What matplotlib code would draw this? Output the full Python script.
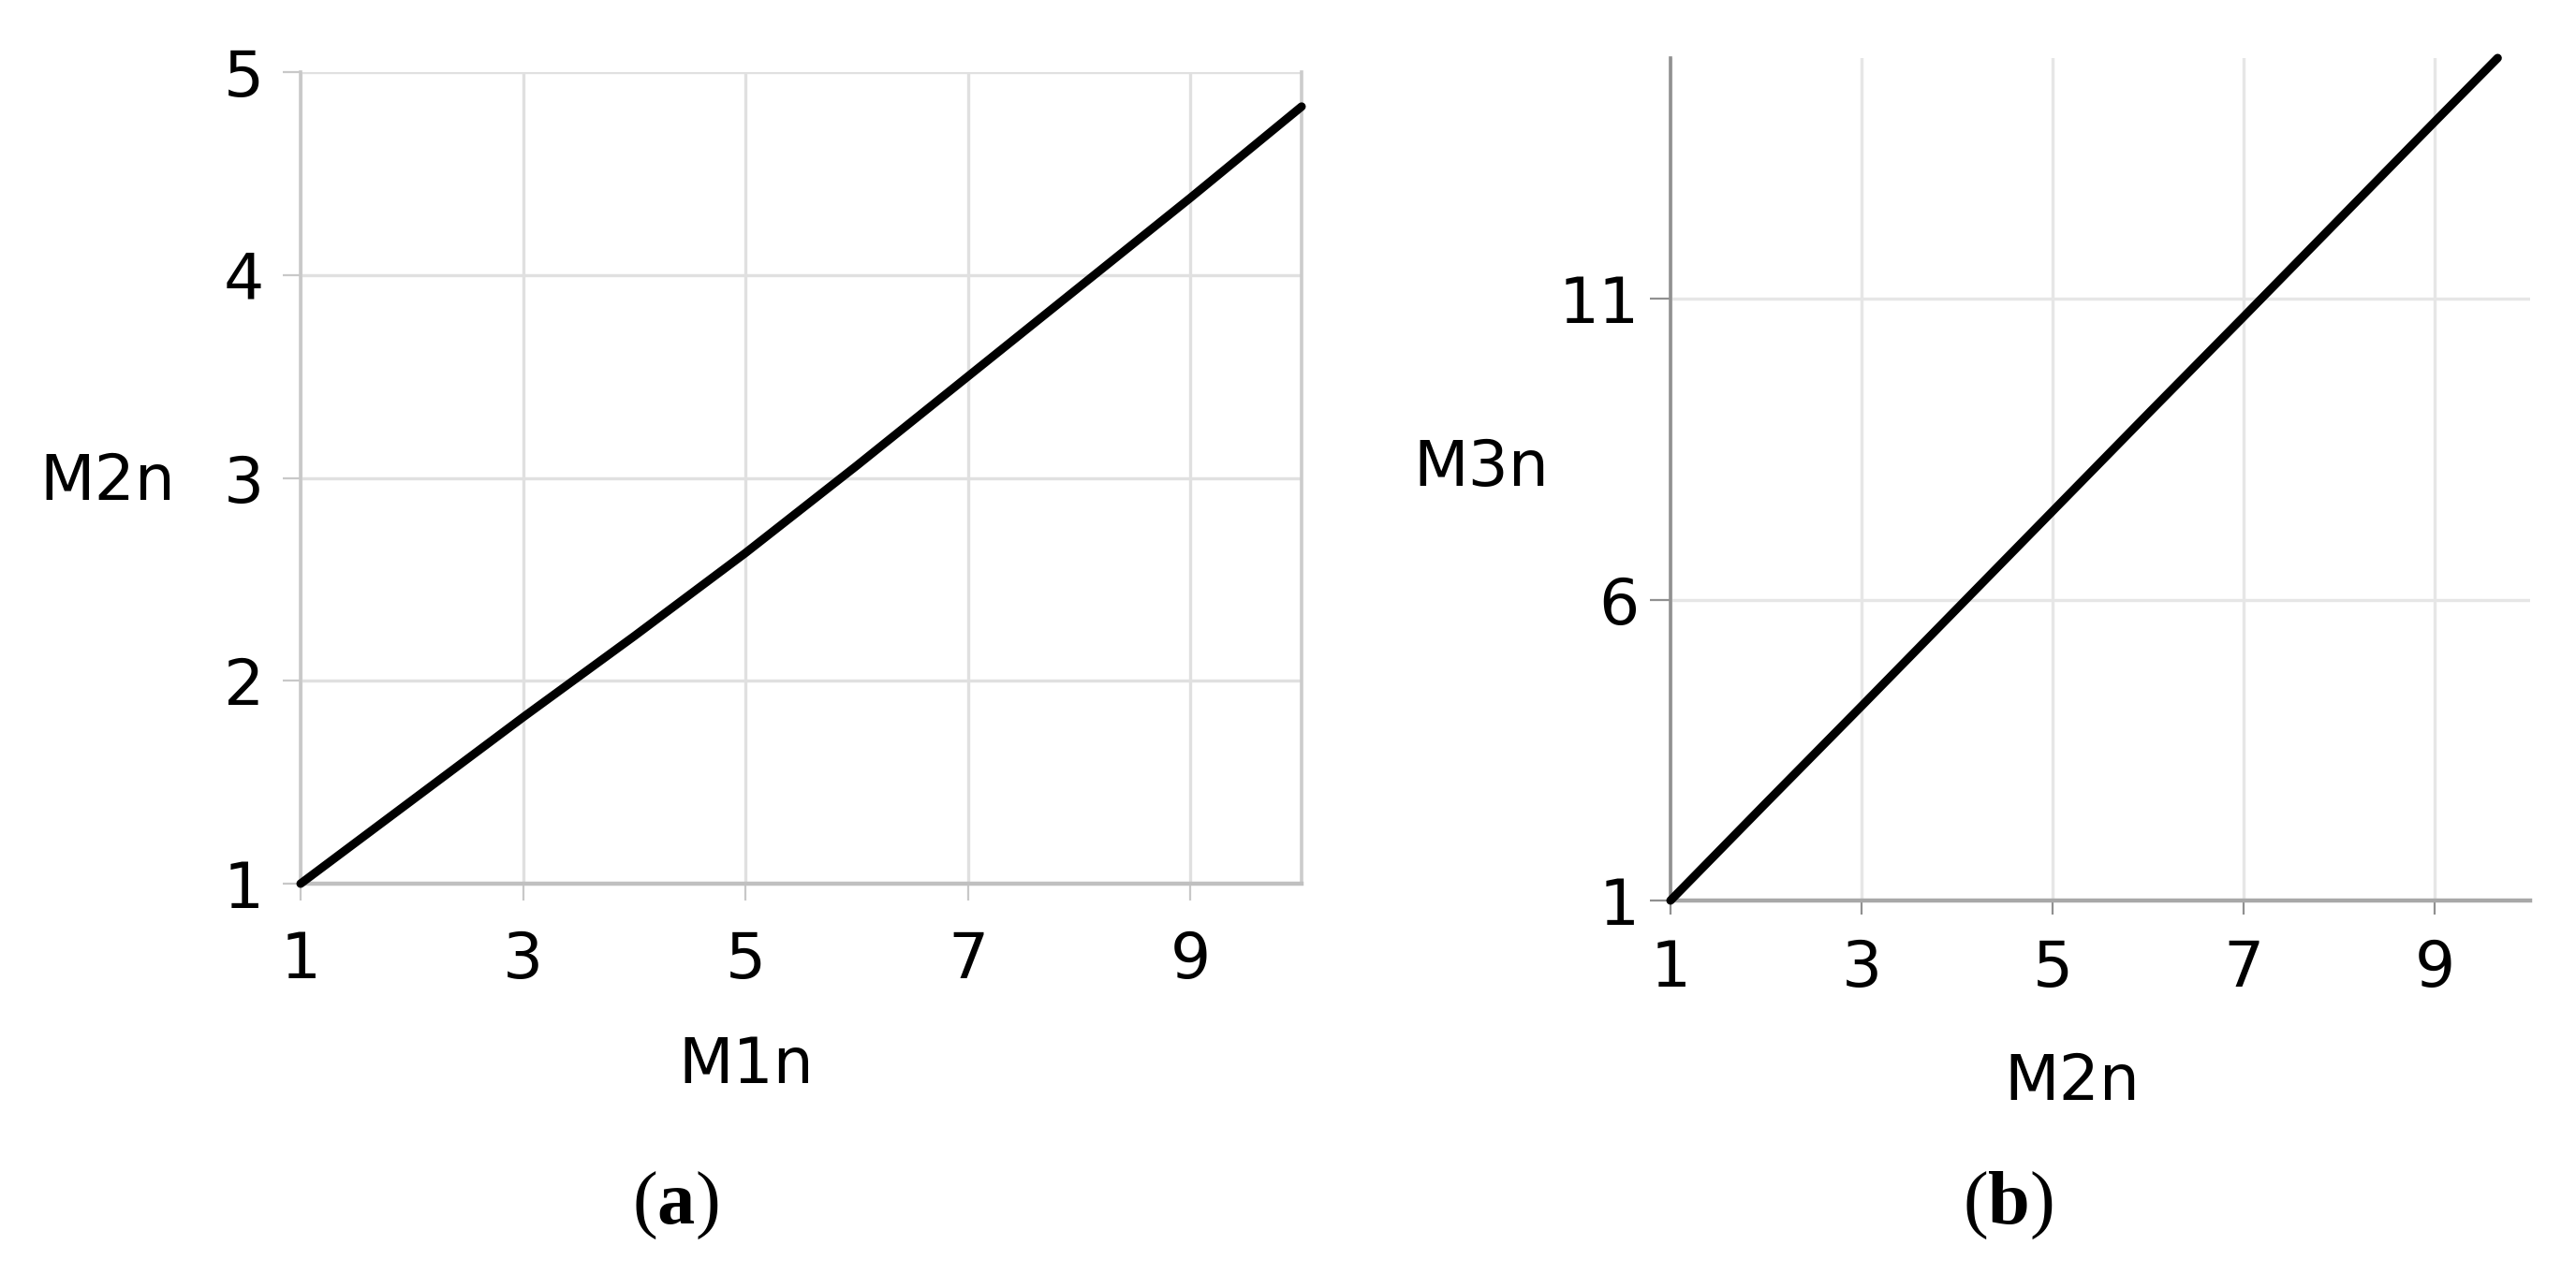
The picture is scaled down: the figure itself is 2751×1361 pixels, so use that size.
import matplotlib
matplotlib.use("Agg")
import matplotlib.pyplot as plt

plt.rcParams['font.family'] = ['DejaVu Sans']
plt.rcParams['mathtext.fontset'] = 'custom'
plt.rcParams['mathtext.rm'] = 'Liberation Serif'
plt.rcParams['mathtext.bf'] = 'Liberation Serif:bold'

# panel (a): M2n against M1n
m1n = [1, 2, 3, 4, 5, 6, 7, 8, 9, 10]
m2n_a = [1.0, 1.41, 1.82, 2.22, 2.63, 3.06, 3.50, 3.94, 4.38, 4.83]

# panel (b): M3n against M2n
m2n_b = [1, 2, 3, 4, 5, 6, 7, 8, 9, 9.66]
m3n = [1.0, 2.62, 4.23, 5.85, 7.47, 9.09, 10.7, 12.32, 13.94, 15.0]

xticks_a = [1, 3, 5, 7, 9]
yticks_a = [1, 2, 3, 4, 5]
xticks_b = [1, 3, 5, 7, 9]
yticks_b = [1, 6, 11]

fs = 49
fig = plt.figure(figsize=(27.51, 13.61), dpi=100)

# ---- (a)
ax1 = fig.add_axes([0.11669, 0.30639, 0.38859, 0.63703])
ax1.plot(m1n, m2n_a, color='black', lw=6.5, solid_capstyle='round', clip_on=False, zorder=5)
ax1.set_xlim(1, 10)
ax1.set_ylim(1, 5)
ax1.set_xticks(xticks_a)
ax1.set_yticks(yticks_a)
ax1.grid(True, color='#e0e0e0', lw=2.4)
ax1.set_axisbelow(True)
ax1.spines['top'].set_visible(False)
ax1.spines['left'].set_color('#c8c8c8')
ax1.spines['left'].set_linewidth(2.6)
ax1.spines['right'].set_color('#cccccc')
ax1.spines['right'].set_linewidth(2.6)
ax1.spines['bottom'].set_color('#c0c0c0')
ax1.spines['bottom'].set_linewidth(3.2)
ax1.tick_params(axis='x', length=13, width=1.6, color='#c8c8c8', pad=22, labelsize=fs)
ax1.tick_params(axis='y', length=14, width=1.6, color='#c8c8c8', pad=14, labelsize=fs)

# ---- (b)
ax2 = fig.add_axes([0.64849, 0.29317, 0.33370, 0.66128])
ax2.plot(m2n_b, m3n, color='black', lw=6.5, solid_capstyle='round', clip_on=False, zorder=5)
ax2.set_xlim(1, 10)
ax2.set_ylim(1, 15)
ax2.set_xticks(xticks_b)
ax2.set_yticks(yticks_b)
ax2.grid(True, color='#e6e6e6', lw=2.4)
ax2.set_axisbelow(True)
ax2.spines['top'].set_visible(False)
ax2.spines['right'].set_visible(False)
ax2.spines['left'].set_color('#909090')
ax2.spines['left'].set_linewidth(2.6)
ax2.spines['bottom'].set_color('#a8a8a8')
ax2.spines['bottom'].set_linewidth(3.2)
ax2.tick_params(axis='x', length=11, width=1.6, color='#909090', pad=18, labelsize=fs)
ax2.tick_params(axis='y', length=16, width=1.6, color='#909090', pad=8, labelsize=fs)

# axis titles placed like the original (horizontal y titles)
fig.text(0.0418, 0.6216, 'M2n', fontsize=fs, ha='center', va='center')
fig.text(0.2897, 0.1638, 'M1n', fontsize=fs, ha='center', va='center')
fig.text(0.5751, 0.6326, 'M3n', fontsize=fs, ha='center', va='center')
fig.text(0.8044, 0.1506, 'M2n', fontsize=fs, ha='center', va='center')

# panel captions
fig.text(0.2621, 0.0536, r'($\mathbf{a}$)', fontsize=58, family='Liberation Serif',
         ha='center', va='center')
fig.text(0.7794, 0.0536, r'($\mathbf{b}$)', fontsize=58, family='Liberation Serif',
         ha='center', va='center')

fig.savefig('out.png', dpi=100)
